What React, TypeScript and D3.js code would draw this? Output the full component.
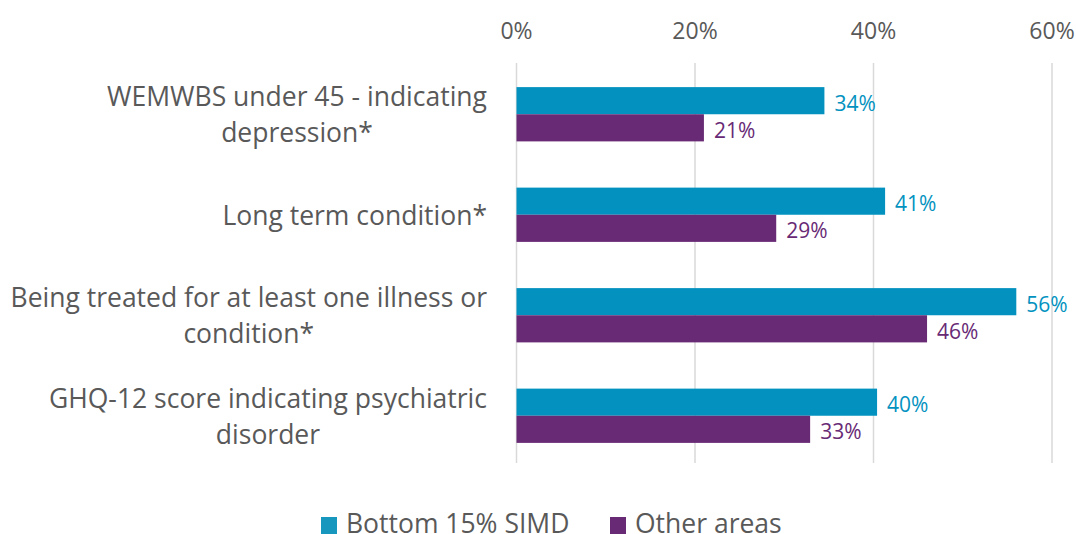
import React, { useEffect, useRef } from "react";
import * as d3 from "d3";

const categories: string[][] = [
  ["WEMWBS under 45 - indicating", "depression*"],
  ["Long term condition*"],
  ["Being treated for at least one illness or", "condition*"],
  ["GHQ-12 score indicating psychiatric", "disorder"],
];
const seriesNames = ["Bottom 15% SIMD", "Other areas"];
const bottom15 = [34.5, 41.3, 56.0, 40.4];
const otherAreas = [21.0, 29.1, 46.0, 32.9];
const valueLabels = [
  ["34%", "41%", "56%", "40%"],
  ["21%", "29%", "46%", "33%"],
];
const ticks = [0, 20, 40, 60];
const colors = ["#0392c0", "#682a75"];
const legendColors = ["#1797bd", "#682a75"];

const W = 1076;
const H = 534;
const FONT = "'Open Sans', Lato, sans-serif";
const GREY = "#595959";

export default function App() {
  const ref = useRef<SVGSVGElement>(null);
  useEffect(() => {
    const svg = d3.select(ref.current);
    svg.selectAll("*").remove();
    const x = d3.scaleLinear().domain([0, 60]).range([516.5, 1052]);
    const keys = categories.map((_, i) => String(i));
    const y = d3
      .scaleBand()
      .domain(keys)
      .range([64, 466])
      .paddingInner(0.46)
      .paddingOuter(0.23);
    const inner = d3
      .scaleBand()
      .domain(["0", "1"])
      .range([0, y.bandwidth()]);
    const series = [bottom15, otherAreas];

    // gridlines
    svg
      .append("g")
      .selectAll("line")
      .data(ticks)
      .join("line")
      .attr("x1", (d) => x(d))
      .attr("x2", (d) => x(d))
      .attr("y1", 63)
      .attr("y2", 463)
      .attr("stroke", "#d9d9d9")
      .attr("stroke-width", 1.5);

    // tick labels
    svg
      .append("g")
      .selectAll("text")
      .data(ticks)
      .join("text")
      .attr("x", (d) => x(d))
      .attr("y", 30)
      .attr("text-anchor", "middle")
      .attr("dominant-baseline", "central")
      .attr("font-family", FONT)
      .attr("font-size", 23)
      .attr("fill", GREY)
      .text((d) => d + "%");

    // bars
    series.forEach((vals, si) => {
      const g = svg.append("g");
      g.selectAll("rect")
        .data(vals)
        .join("rect")
        .attr("x", x(0))
        .attr("y", (_, i) => (y(keys[i]) as number) + (inner(String(si)) as number))
        .attr("width", (d) => x(d) - x(0))
        .attr("height", inner.bandwidth())
        .attr("fill", colors[si]);
      g.selectAll("text")
        .data(vals)
        .join("text")
        .attr("x", (d) => x(d) + 10)
        .attr("y", (_, i) => (y(keys[i]) as number) + (inner(String(si)) as number) + inner.bandwidth() / 2 + 2)
        .attr("dominant-baseline", "central")
        .attr("font-family", FONT)
        .attr("font-size", 21)
        .attr("fill", colors[si])
        .text((_, i) => valueLabels[si][i]);
    });

    // category labels
    const right = 487;
    const lh = 36;
    categories.forEach((lines, i) => {
      const cy = (y(keys[i]) as number) + y.bandwidth() / 2;
      const g = svg.append("g");
      const texts = g
        .selectAll("text")
        .data(lines)
        .join("text")
        .attr("y", (_, j) => cy + (j - (lines.length - 1) / 2) * lh)
        .attr("dominant-baseline", "central")
        .attr("text-anchor", "middle")
        .attr("font-family", FONT)
        .attr("font-size", 26.5)
        .attr("fill", GREY)
        .text((d) => d);
      let maxW = 0;
      texts.each(function () {
        maxW = Math.max(maxW, (this as SVGTextElement).getComputedTextLength());
      });
      texts.attr("x", right - maxW / 2);
    });

    // legend
    const lg = svg.append("g");
    const legendX = [321, 610];
    seriesNames.forEach((name, i) => {
      lg.append("rect")
        .attr("x", legendX[i])
        .attr("y", 517)
        .attr("width", 16)
        .attr("height", 17)
        .attr("fill", legendColors[i]);
      lg.append("text")
        .attr("x", legendX[i] + 25)
        .attr("y", 533)
        .attr("font-family", FONT)
        .attr("font-size", 26.5)
        .attr("fill", GREY)
        .text(name);
    });
  }, []);
  return (
    <svg
      ref={ref}
      width={W}
      height={H}
      style={{ position: "absolute", left: 0, top: 0, background: "#fff" }}
    />
  );
}
